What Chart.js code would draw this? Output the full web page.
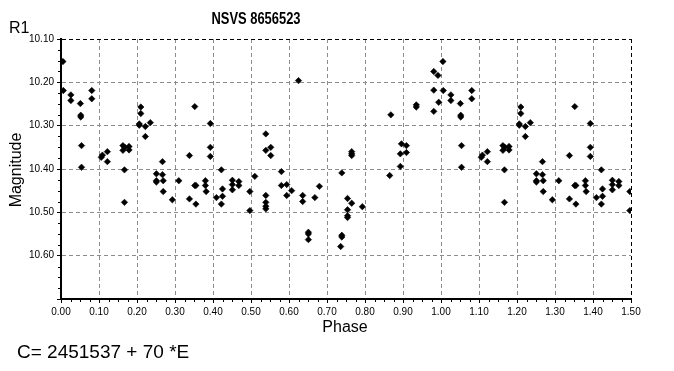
<!DOCTYPE html>
<html>
<head>
<meta charset="utf-8">
<script src="https://cdn.jsdelivr.net/npm/chart.js@4.4.0/dist/chart.umd.min.js"></script>
<style>
  html, body { margin: 0; padding: 0; background: #fff; }
  #wrap { width: 674px; height: 371px; }
</style>
</head>
<body>
<div id="wrap"><canvas id="lightCurve" width="674" height="371"></canvas></div>
<script>
const phases = [
  0.005, 0.006, 0.026, 0.026, 0.051, 0.052, 0.052, 0.054, 0.054, 0.081, 0.081,
  0.106, 0.109, 0.122, 0.122, 0.163, 0.163, 0.167, 0.167, 0.168, 0.179, 0.179,
  0.206, 0.206, 0.210, 0.210, 0.222, 0.222, 0.235, 0.251, 0.251, 0.251, 0.267,
  0.267, 0.269, 0.269, 0.293, 0.310, 0.338, 0.338, 0.352, 0.352, 0.355, 0.355,
  0.380, 0.380, 0.382, 0.393, 0.393, 0.393, 0.409, 0.422, 0.422, 0.425, 0.425,
  0.451, 0.451, 0.451, 0.468, 0.468, 0.497, 0.497, 0.510, 0.539, 0.539, 0.539,
  0.539, 0.539, 0.539, 0.552, 0.552, 0.580, 0.580, 0.594, 0.594, 0.607, 0.625,
  0.636, 0.636, 0.651, 0.651, 0.651, 0.668, 0.680, 0.736, 0.739, 0.739, 0.739,
  0.754, 0.754, 0.754, 0.754, 0.765, 0.765, 0.765, 0.765, 0.793, 0.865, 0.868,
  0.893, 0.893, 0.896, 0.909, 0.909, 0.935, 0.935, 0.981, 0.981, 0.981, 0.992,
  0.994
];
const magnitudes = [
  10.152, 10.219, 10.229, 10.242, 10.249, 10.276, 10.280, 10.346, 10.396, 10.219, 10.238,
  10.373, 10.368, 10.360, 10.383, 10.346, 10.357, 10.402, 10.477, 10.350, 10.348, 10.356,
  10.296, 10.299, 10.257, 10.272, 10.302, 10.325, 10.293, 10.411, 10.427, 10.430, 10.383,
  10.413, 10.427, 10.452, 10.471, 10.427, 10.369, 10.469, 10.256, 10.438, 10.438, 10.481,
  10.427, 10.438, 10.452, 10.295, 10.350, 10.371, 10.466, 10.402, 10.481, 10.446, 10.463,
  10.426, 10.436, 10.448, 10.429, 10.438, 10.452, 10.496, 10.417, 10.319, 10.357, 10.461,
  10.477, 10.486, 10.492, 10.350, 10.369, 10.406, 10.438, 10.436, 10.461, 10.450, 10.196,
  10.461, 10.475, 10.546, 10.550, 10.563, 10.466, 10.440, 10.579, 10.409, 10.553, 10.557,
  10.468, 10.494, 10.508, 10.512, 10.360, 10.365, 10.369, 10.479, 10.487, 10.415, 10.275,
  10.365, 10.394, 10.342, 10.346, 10.362, 10.252, 10.257, 10.175, 10.218, 10.267, 10.184,
  10.246
];
const phaseTicks = [0.0, 0.1, 0.2, 0.3, 0.4, 0.5, 0.6, 0.7, 0.8, 0.9, 1.0, 1.1, 1.2, 1.3, 1.4, 1.5];
const magTicks = [10.1, 10.2, 10.3, 10.4, 10.5, 10.6, 10.7];
const magLabels = ['10.10', '10.20', '10.30', '10.40', '10.50', '10.60', ''];

// the plot repeats the first half cycle after phase 1
const points = [];
phases.forEach((p, i) => {
  points.push({ x: p, y: magnitudes[i] });
  if (p < 0.5) points.push({ x: p + 1, y: magnitudes[i] });
});

const FONT = 'Liberation Sans, Arial, sans-serif';

// texts around the plot, minor ticks
const decorations = {
  id: 'decorations',
  afterDraw(chart) {
    const c = chart.ctx;
    const xs = chart.scales.x, ys = chart.scales.y;
    const area = chart.chartArea;
    c.save();
    c.strokeStyle = '#000';
    c.lineWidth = 1;
    // minor ticks every 0.025
    for (let k = 1; k < 60; k++) {
      if (k % 4 === 0) continue;
      const px = Math.round(xs.getPixelForValue(k * 0.025)) + 0.5;
      c.beginPath(); c.moveTo(px, area.bottom); c.lineTo(px, area.bottom + 3); c.stroke();
    }
    for (let k = 1; k < 24; k++) {
      if (k % 4 === 0) continue;
      const py = Math.round(ys.getPixelForValue(10.1 + k * 0.025)) + 0.5;
      c.beginPath(); c.moveTo(area.left - 3, py); c.lineTo(area.left, py); c.stroke();
    }
    c.fillStyle = '#000';
    c.textBaseline = 'middle';
    c.textAlign = 'center';
    // title is a narrow bold face in the original
    c.save();
    c.translate(256, 19);
    c.scale(0.76, 1);
    c.font = 'bold 17px ' + FONT;
    c.fillText('NSVS 8656523', 0, 0);
    c.restore();
    c.font = '16px ' + FONT;
    c.fillText('Phase', 345, 328);
    c.textAlign = 'left';
    c.fillText('R1', 9, 29);
    c.font = '19px ' + FONT;
    c.fillText('C= 2451537 + 70 *E', 17, 353);
    c.translate(17, 170);
    c.rotate(-Math.PI / 2);
    c.textAlign = 'center';
    c.font = '16px ' + FONT;
    c.fillText('Magnitude', 0, 0);
    c.restore();
  }
};

new Chart(document.getElementById('lightCurve'), {
  type: 'scatter',
  data: {
    datasets: [{
      label: 'R1',
      data: points,
      pointStyle: 'rectRot',
      pointRadius: 3.2,
      pointBorderWidth: 0.6,
      backgroundColor: '#000',
      borderColor: '#000'
    }]
  },
  options: {
    responsive: false,
    animation: false,
    events: [],
    layout: { padding: { top: 39, right: 43, left: 0, bottom: 0 } },
    plugins: { legend: { display: false }, title: { display: false }, tooltip: { enabled: false } },
    scales: {
      x: {
        type: 'linear',
        min: 0,
        max: 1.5,
        afterBuildTicks: s => { s.ticks = phaseTicks.map(v => ({ value: v })); },
        afterFit: s => { s.height = 72; },
        ticks: {
          callback: v => v.toFixed(2),
          font: { family: FONT, size: 10 },
          color: '#000',
          padding: 3,
          maxRotation: 0,
          autoSkip: false
        },
        grid: {
          color: ctx => (ctx.tick && ctx.tick.value === 1.5 ? '#000' : '#8c8c8c'),
          tickColor: '#000',
          tickLength: 4,
          tickBorderDash: []
        },
        border: { display: true, color: '#000', width: 2, dash: [4, 3] }
      },
      y: {
        type: 'linear',
        reverse: true,
        min: 10.1,
        max: 10.7,
        afterBuildTicks: s => { s.ticks = magTicks.map(v => ({ value: v })); },
        afterFit: s => { s.width = 61; },
        ticks: {
          callback: (v, i) => magLabels[i],
          font: { family: FONT, size: 10 },
          color: '#000',
          padding: 3,
          autoSkip: false
        },
        grid: {
          color: ctx => (ctx.tick && ctx.tick.value === 10.1 ? '#000' : '#8c8c8c'),
          tickColor: '#000',
          tickLength: 4,
          tickBorderDash: []
        },
        border: { display: true, color: '#000', width: 2, dash: [4, 3] }
      }
    }
  },
  plugins: [decorations]
});
</script>
</body>
</html>
